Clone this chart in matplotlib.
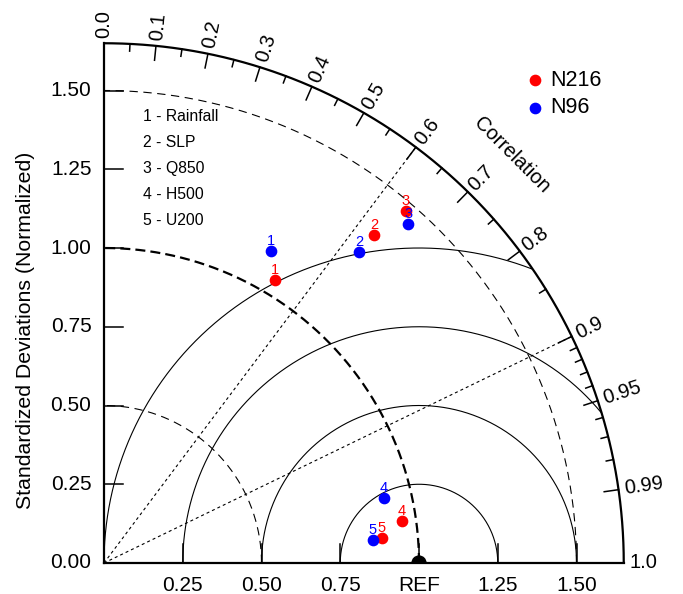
import matplotlib
matplotlib.use("Agg")
import matplotlib.pyplot as plt
import numpy as np
from matplotlib.patches import Wedge

plt.rcParams["font.family"] = ["Liberation Sans", "DejaVu Sans"]

# ── data ────────────────────────────────────────────────────────────────────
variables = ["Rainfall", "SLP", "Q850", "H500", "U200"]
n216_std = [1.049, 1.348, 1.472, 0.955, 0.886]
n216_cor = [0.518, 0.636, 0.651, 0.990, 0.996]
n96_std = [1.123, 1.277, 1.445, 0.913, 0.857]
n96_cor = [0.472, 0.634, 0.668, 0.974, 0.9965]

std_ticks = [0.25, 0.50, 0.75, 1.00, 1.25, 1.50]
x_labels = ["0.25", "0.50", "0.75", "REF", "1.25", "1.50"]
y_labels = ["0.25", "0.50", "0.75", "1.00", "1.25", "1.50"]
cor_major = [0.0, 0.1, 0.2, 0.3, 0.4, 0.5, 0.6, 0.7, 0.8, 0.9, 0.95, 0.99, 1.0]
cor_major_lbl = ["0.0", "0.1", "0.2", "0.3", "0.4", "0.5", "0.6", "0.7",
                 "0.8", "0.9", "0.95", "0.99", "1.0"]
cor_minor = [0.05, 0.15, 0.25, 0.35, 0.45, 0.55, 0.65, 0.75, 0.85,
             0.91, 0.92, 0.93, 0.94, 0.96, 0.97, 0.98]
rms_radii = [0.25, 0.50, 0.75, 1.00]
std_arcs = [0.5, 1.5]
cor_rays = [0.6, 0.9]
RMAX = 1.65

# ── figure: 315 px per unit, origin at pixel (104, 563) ─────────────────────
fig = plt.figure(figsize=(6.83, 5.94), dpi=100)
ax = fig.add_axes([0, 0, 1, 1])
ax.set_xlim(-104 / 315, 579 / 315)
ax.set_ylim(-31 / 315, 563 / 315)
ax.axis("off")

th = np.linspace(0, np.pi / 2, 400)

# outer arc + axes
ax.plot(RMAX * np.cos(th), RMAX * np.sin(th), color="k", lw=1.6, solid_capstyle="butt")
ax.plot([0, 0], [0, RMAX], color="k", lw=1.6)
ax.plot([0, RMAX], [0, 0], color="k", lw=1.6)

# std arcs around the origin
for r in std_arcs:
    ax.plot(r * np.cos(th), r * np.sin(th), color="k", lw=0.8,
            ls=(0, (7.5, 5)))
ax.plot(np.cos(th), np.sin(th), color="k", lw=1.6, ls=(0, (4.5, 2.3)))

# centred RMS arcs around REF
ph = np.linspace(0, np.pi, 800)
for r in rms_radii:
    x = 1 + r * np.cos(ph)
    y = r * np.sin(ph)
    m = np.hypot(x, y) <= RMAX
    ax.plot(x[m], y[m], color="k", lw=0.8)

# correlation rays
for c in cor_rays:
    a = np.arccos(c)
    ax.plot([0, RMAX * np.cos(a)], [0, RMAX * np.sin(a)], color="k",
            lw=0.8, ls=(0, (2.7, 2.7)))

# correlation ticks + labels
for c, lbl in zip(cor_major, cor_major_lbl):
    a = np.arccos(c)
    if 0 < c < 1:
        ax.plot([RMAX * np.cos(a), (RMAX - 0.046) * np.cos(a)],
                [RMAX * np.sin(a), (RMAX - 0.046) * np.sin(a)], color="k", lw=1.1)
    rr = RMAX + 0.018
    ax.text(rr * np.cos(a), rr * np.sin(a), lbl, fontsize=14.5,
            rotation=np.degrees(a), rotation_mode="anchor",
            ha="left", va="center")
for c in cor_minor:
    a = np.arccos(c)
    ax.plot([RMAX * np.cos(a), (RMAX - 0.023) * np.cos(a)],
            [RMAX * np.sin(a), (RMAX - 0.023) * np.sin(a)], color="k", lw=1.1)

ax.text(1.83 * np.cos(np.pi / 4), 1.83 * np.sin(np.pi / 4), "Correlation",
        fontsize=14.5, rotation=-45, ha="center", va="center")

# std axis ticks + labels
for v, lbl in zip(std_ticks, y_labels):
    ax.plot([0, 0.06], [v, v], color="k", lw=1.1)
    ax.text(-0.04, v, lbl, fontsize=15, ha="right", va="center")
ax.text(-0.04, 0, "0.00", fontsize=15, ha="right", va="center")
for v, lbl in zip(std_ticks, x_labels):
    ax.plot([v, v], [0, 0.06], color="k", lw=1.1)
    ax.text(v, -0.042, lbl, fontsize=15, ha="center", va="top")
ax.text(-0.25, 0.74, "Standardized Deviations (Normalized)", fontsize=15.3,
        rotation=90, ha="center", va="center")

# REF marker
ax.add_patch(Wedge((1, 0), 0.022, 0, 180, color="k", zorder=5))

# model points
for std, cor, col in [(n216_std, n216_cor, "red"), (n96_std, n96_cor, "blue")]:
    s = np.array(std)
    a = np.arccos(np.array(cor))
    xs, ys = s * np.cos(a), s * np.sin(a)
    ax.plot(xs, ys, "o", color=col, ms=7.4, zorder=6)
    for i, (xx, yy) in enumerate(zip(xs, ys)):
        ax.annotate(str(i + 1), (xx, yy), xytext=(0, 4.3),
                    textcoords="offset points", color=col, fontsize=10.5,
                    ha="center", va="baseline", zorder=7)

# variable list
for i, name in enumerate(variables):
    ax.text(0.124, 1.416 - 0.082 * i, f"{i + 1} - {name}", fontsize=11.3,
            ha="left", va="center")

# legend
for yy, col, lbl in [(1.533, "red", "N216"), (1.446, "blue", "N96")]:
    ax.plot(1.368, yy, "o", color=col, ms=7.4)
    ax.text(1.416, yy, lbl, fontsize=15.5, ha="left", va="center")

fig.savefig("out.png", dpi=100)
